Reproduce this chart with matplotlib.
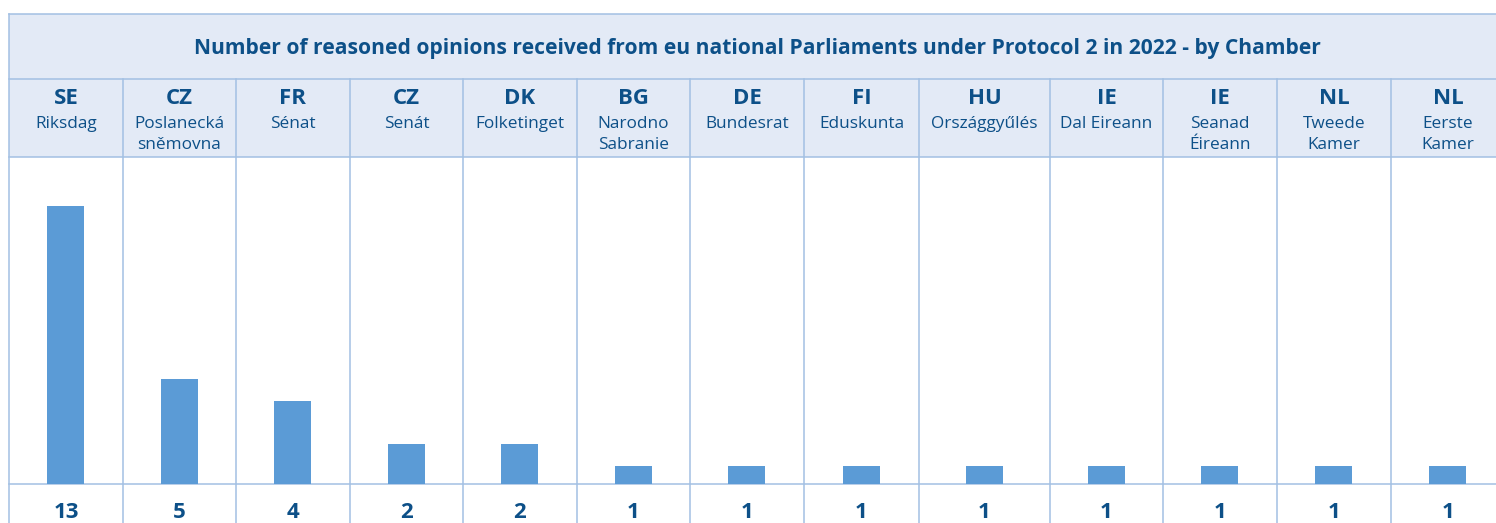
import matplotlib
matplotlib.use("Agg")
import matplotlib.pyplot as plt
from matplotlib.patches import Rectangle

# data
codes = ["SE", "CZ", "FR", "CZ", "DK", "BG", "DE", "FI", "HU", "IE", "IE", "NL", "NL"]
chambers = [
    "Riksdag", "Poslanecká\nsněmovna", "Sénat", "Senát", "Folketinget",
    "Narodno\nSabranie", "Bundesrat", "Eduskunta", "Országgyűlés",
    "Dal Eireann", "Seanad\nÉireann", "Tweede\nKamer", "Eerste\nKamer",
]
opinions = [13, 5, 4, 2, 2, 1, 1, 1, 1, 1, 1, 1, 1]
title = ("Number of reasoned opinions received from eu national Parliaments "
         "under Protocol 2 in 2022 - by Chamber")

# layout in pixels
W, H = 1496, 523
col_edges = [9, 123, 236, 350, 463, 577, 690, 804, 919, 1050, 1163, 1277, 1391, 1505]
y_top, y_title, y_head, y_base = 14, 79, 157, 484

fill = "#E3EAF6"
line = "#A3C0E3"
text_c = "#0D5088"
bar_c = "#5B9BD6"
font = "Open Sans"

fig = plt.figure(figsize=(W / 100, H / 100), dpi=100)
bg = fig.add_axes([0, 0, 1, 1])
bg.set_xlim(0, W)
bg.set_ylim(H, 0)
bg.axis("off")

# bar area: zero sits a little under the bottom rule, so bars are clipped there
ax = fig.add_axes([0, (H - y_base) / H, 1, (y_base - y_head) / H])
ax.set_xlim(0, W)
px_per_unit = 21.67
off = 3.67
ax.set_ylim(off / px_per_unit, (y_base - y_head + off) / px_per_unit)
ax.axis("off")

centers = [(a + b) / 2 for a, b in zip(col_edges[:-1], col_edges[1:])]
ax.bar(centers, opinions, width=37, color=bar_c, zorder=2)

# header fill
bg.add_patch(Rectangle((col_edges[0], y_top), W - col_edges[0], y_head - y_top,
                       facecolor=fill, edgecolor="none", zorder=0))

lw = 1.1
for y in (y_top, y_title, y_head, y_base):
    bg.plot([col_edges[0], W], [y, y], color=line, lw=lw, zorder=3)
bg.plot([col_edges[0], col_edges[0]], [y_top, H], color=line, lw=lw, zorder=3)
for x in col_edges[1:-1]:
    bg.plot([x, x], [y_title, H], color=line, lw=lw, zorder=3)

bg.text((col_edges[0] + col_edges[-1]) / 2, 48.5, title, ha="center", va="center",
        fontsize=15.1, fontweight="bold", color=text_c, family=font)

for cx, code, name, val in zip(centers, codes, chambers, opinions):
    bg.text(cx, 98.5, code, ha="center", va="center", fontsize=16,
            fontweight="bold", color=text_c, family=font)
    bg.text(cx, 115.5, name, ha="center", va="top", fontsize=12.4,
            color=text_c, family=font, linespacing=1.45)
    bg.text(cx, 512, str(val), ha="center", va="center", fontsize=16,
            fontweight="bold", color=text_c, family=font)

fig.savefig("out.png", dpi=100)
